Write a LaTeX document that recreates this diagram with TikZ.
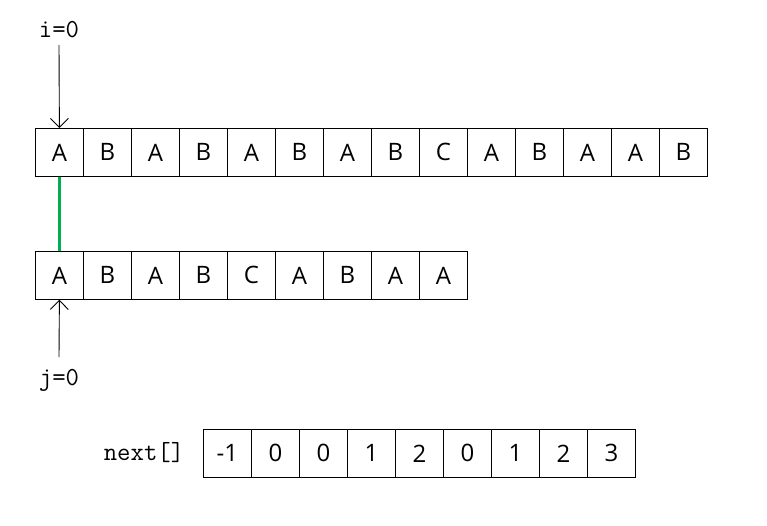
\documentclass[tikz,border=0pt]{standalone}
\usepackage{fontspec}
\setsansfont{Open Sans}
\usetikzlibrary{arrows.meta}
\begin{document}
\begin{tikzpicture}[x=1pt,y=-1pt,
  cell/.style={draw,line width=0.8pt,minimum width=48pt,minimum height=48pt,inner sep=0pt,font=\sffamily\fontsize{24}{24}\selectfont,anchor=north west},
  lbl/.style={font=\ttfamily\fontsize{26}{26}\selectfont},
  ptr/.style={line width=0.9pt,-{Straight Barb[length=9pt,width=18pt,line width=0.9pt]}},
  match/.style={line width=3.5pt,draw={rgb,255:red,0;green,176;blue,80}}]
\useasboundingbox (0,0) rectangle (767,525);
\foreach \c [count=\k from 0] in {A,B,A,B,A,B,A,B,C,A,B,A,A,B}
  \node[cell] (s\k) at (35+48*\k,128) {\c};
\foreach \c [count=\k from 0] in {A,B,A,B,C,A,B,A,A}
  \node[cell] (p\k) at (35+48*\k,251) {\c};
\foreach \c [count=\k from 0] in {-1,0,0,1,2,0,1,2,3}
  \node[cell] (n\k) at (203+48*\k,429) {\c};
\node[lbl] (i) at (59,30) {i=0};
\node[lbl] (j) at (59,380) {j=0};
\node[lbl] (nx) at (144,453) {next[]};
\coordinate (itop) at (59,45);
\coordinate (jbot) at (59,357);
\draw[ptr] (itop) -- (s0.north);
\draw[ptr] (jbot) -- (p0.south);
\draw[match] (s0.south) -- (p0.north);
\end{tikzpicture}
\end{document}
